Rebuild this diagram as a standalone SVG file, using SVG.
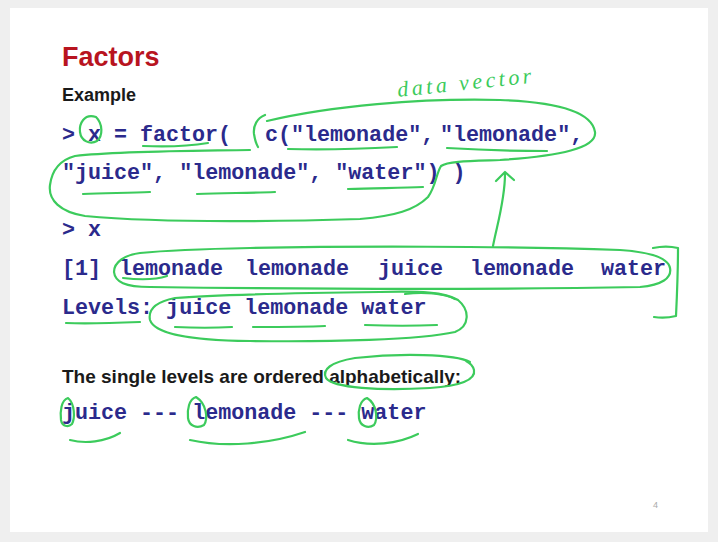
<svg xmlns="http://www.w3.org/2000/svg" width="718" height="542" viewBox="0 0 718 542">
<style>
.title{font-family:"Liberation Sans",Arial,sans-serif;font-weight:bold;font-size:27px;fill:#b8141f}
.sans{font-family:"Liberation Sans",Arial,sans-serif;font-weight:bold;fill:#1a1a1a}
.code{font-family:"Liberation Mono","Courier New",monospace;font-weight:bold;font-size:21.7px;fill:#2b2a8c;white-space:pre}
.ink{fill:none;stroke:#3ccb5c;stroke-width:2.2;stroke-linecap:round;stroke-linejoin:round}
.hand{font-family:"Liberation Serif",serif;font-style:italic;font-size:22px;fill:#3ccb5c;letter-spacing:3.5px}
</style>
<rect x="0" y="0" width="718" height="542" fill="#efefef"/>
<rect x="10" y="8" width="698" height="524" fill="#ffffff"/>

<g id="text">
<text class="title" x="62" y="66">Factors</text>
<text class="sans" x="62" y="101" font-size="18">Example</text>
<text class="code" y="141" font-size="20.8" xml:space="preserve"><tspan x="62">&gt;</tspan><tspan x="88">x</tspan><tspan x="114">=</tspan><tspan x="140">factor(</tspan><tspan x="265">c("lemonade",</tspan><tspan x="440">"lemonade",</tspan></text>
<text class="code" x="62" y="179" xml:space="preserve">"juice", "lemonade", "water") )</text>
<text class="code" x="62" y="236" xml:space="preserve">&gt; x</text>
<text class="code" y="275" xml:space="preserve"><tspan x="62">[1]</tspan><tspan x="119">lemonade</tspan><tspan x="245">lemonade</tspan><tspan x="378">juice</tspan><tspan x="470">lemonade</tspan><tspan x="601">water</tspan></text>
<text class="code" x="62" y="314" xml:space="preserve">Levels: juice lemonade water</text>
<text class="sans" x="62" y="383" font-size="19">The single levels are ordered alphabetically:</text>
<text class="code" x="62" y="419" xml:space="preserve">juice --- lemonade --- water</text>
<text x="653" y="508" font-family="Liberation Sans,sans-serif" font-size="9" fill="#aaaaaa">4</text>
</g>

<g id="annotations">
<text class="hand" x="398" y="97" transform="rotate(-6 398 97)">data vector</text>
<path id="circle-x" class="ink" d="M96,117 C84,113 79,124 80,132 C81,141 90,145 97,141 C103,136 103,124 96,117 Z"/>
<path id="underline-factor" class="ink" d="M143,146 C165,147 190,146 208,143"/>
<path id="paren-c" class="ink" d="M265,115 C257,118 253,126 254,134 C255,140 256,144 258,147"/>
<path id="loop-vector" class="ink" d="M267,121 C330,106 420,98 500,100 C560,102 592,112 595,132 C597,148 560,156 500,160 C470,161 448,161 441,166 C436,174 436,186 428,197 C415,210 395,216 360,219 C260,222 150,222 85,216 C60,212 48,200 50,185 C52,170 60,160 75,156 C120,151 190,151 250,150"/>
<path class="ink" d="M288,149 C320,150 360,149 397,147"/>
<path class="ink" d="M447,148 C480,150 515,151 547,151"/>
<path class="ink" d="M83,194 C105,193 130,193 150,192"/>
<path class="ink" d="M197,194 C225,193 250,193 275,192"/>
<path class="ink" d="M348,189 C375,188 400,188 423,187"/>
<path id="arrow" class="ink" d="M493,246 C497,225 505,200 505,174 M496,181 L505,172 L514,180"/>
<path id="loop-output" class="ink" d="M140,253 C125,255 114,262 114,272 C115,282 125,287 150,287 C300,289 480,290 640,287 C662,285 672,278 670,268 C668,258 650,252 620,250 C500,246 350,246 250,248 C200,249 160,251 140,253"/>
<path class="ink" d="M123,278 C140,280 155,280 167,276"/>
<path id="bracket" class="ink" d="M653,248 C662,246 670,246 678,248 C678,270 677,295 676,316 C668,318 660,318 654,317"/>
<path id="loop-levels" class="ink" d="M175,298 C155,302 148,310 150,320 C154,332 180,340 250,341 C330,342 420,340 455,332 C470,326 470,310 458,300 C445,292 420,291 380,292 C300,293 220,294 175,298"/>
<path class="ink" d="M405,294 C425,291 445,294 455,299"/>
<path class="ink" d="M66,323 C90,324 115,323 140,322"/>
<path class="ink" d="M175,327 C195,328 215,328 232,327"/>
<path class="ink" d="M253,327 C280,327 305,327 325,326"/>
<path class="ink" d="M365,325 C390,326 415,326 437,325"/>
<path id="ellipse-alpha" class="ink" d="M470,362 C455,354 400,353 355,358 C330,362 322,370 326,378 C333,388 380,391 430,388 C460,386 476,380 474,370 C473,366 470,363 466,361"/>
<path class="ink" d="M68,398 C61,400 60,412 61,420 C62,426 68,428 72,424 C75,418 75,404 68,398 Z"/>
<path class="ink" d="M196,397 C189,399 187,410 188,418 C189,426 197,429 204,425 C208,419 207,404 196,397 Z"/>
<path class="ink" d="M367,398 C360,400 358,410 359,418 C360,426 368,429 374,425 C378,419 377,404 367,398 Z"/>
<path class="ink" d="M70,440 C85,444 105,442 120,433"/>
<path class="ink" d="M190,440 C225,448 270,444 305,432"/>
<path class="ink" d="M348,440 C370,447 398,444 418,434"/>
</g>
</svg>
